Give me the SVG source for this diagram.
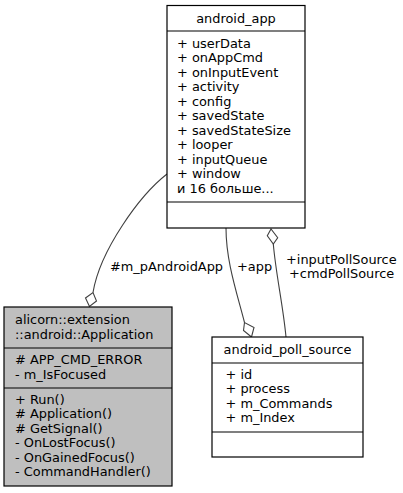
<svg xmlns="http://www.w3.org/2000/svg" width="403" height="493" viewBox="0 0 403 493">
<style>
  text { font-family: "DejaVu Sans", "Liberation Sans", sans-serif; font-size: 12.9px; fill: #000; }
  .box { fill: #fff; stroke: #000; stroke-width: 1.2; }
  .grey { fill: #bfbfbf; }
  .div { stroke: #000; stroke-width: 1.2; fill: none; }
  .edge { stroke: #404040; stroke-width: 1.1; fill: none; }
  .dia { fill: #fff; stroke: #404040; stroke-width: 1.1; }
  .mid { text-anchor: middle; }
</style>
<rect width="403" height="493" fill="#fff"/>

<g id="connectors">
  <path class="edge" d="M167,174 C140,195 100,250 93,292.5"/>
  <polygon class="dia" points="89.5,306.5 85.5,298 93,292.5 96.5,301"/>
  <text x="110" y="271">#m_pAndroidApp</text>

  <path class="edge" d="M226,228 C226,260 236,290 244.5,322.5"/>
  <polygon class="dia" points="251.5,337 243.5,330.5 244.5,322.5 254,327.5"/>
  <text x="237" y="271">+app</text>

  <path class="edge" d="M273.3,244 C276,275 283,305 286,337"/>
  <polygon class="dia" points="271,229 267.3,235.7 273.3,244 277.7,237.7"/>
  <text x="286" y="264">+inputPollSource</text>
  <text x="289" y="278">+cmdPollSource</text>
</g>

<g id="android_app">
  <rect class="box" x="167" y="5.5" width="138" height="222.5"/>
  <line class="div" x1="167" y1="31" x2="305" y2="31"/>
  <line class="div" x1="167" y1="202" x2="305" y2="202"/>
  <text class="mid" x="236" y="22.5">android_app</text>
  <text x="177" y="47.5">+ userData</text>
  <text x="177" y="62">+ onAppCmd</text>
  <text x="177" y="76.5">+ onInputEvent</text>
  <text x="177" y="91">+ activity</text>
  <text x="177" y="105.5">+ config</text>
  <text x="177" y="120">+ savedState</text>
  <text x="177" y="134.5">+ savedStateSize</text>
  <text x="177" y="149">+ looper</text>
  <text x="177" y="163.5">+ inputQueue</text>
  <text x="177" y="178">+ window</text>
  <text x="177" y="192.5">и 16 больше...</text>
</g>

<g id="Application">
  <rect class="box grey" x="4" y="307" width="168" height="179"/>
  <line class="div" x1="4" y1="348" x2="172" y2="348"/>
  <line class="div" x1="4" y1="388" x2="172" y2="388"/>
  <text x="15" y="324">alicorn::extension</text>
  <text x="15" y="338.5">::android::Application</text>
  <text x="15" y="364"># APP_CMD_ERROR</text>
  <text x="15" y="378.5">- m_IsFocused</text>
  <text x="15" y="403.5">+ Run()</text>
  <text x="15" y="418"># Application()</text>
  <text x="15" y="432.5"># GetSignal()</text>
  <text x="15" y="447">- OnLostFocus()</text>
  <text x="15" y="461.5">- OnGainedFocus()</text>
  <text x="15" y="476">- CommandHandler()</text>
</g>

<g id="android_poll_source">
  <rect class="box" x="212" y="337" width="151" height="120"/>
  <line class="div" x1="212" y1="363" x2="363" y2="363"/>
  <line class="div" x1="212" y1="432" x2="363" y2="432"/>
  <text class="mid" x="287.5" y="353.5">android_poll_source</text>
  <text x="225.5" y="378.5">+ id</text>
  <text x="225.5" y="393">+ process</text>
  <text x="225.5" y="407.5">+ m_Commands</text>
  <text x="225.5" y="422">+ m_Index</text>
</g>
</svg>
